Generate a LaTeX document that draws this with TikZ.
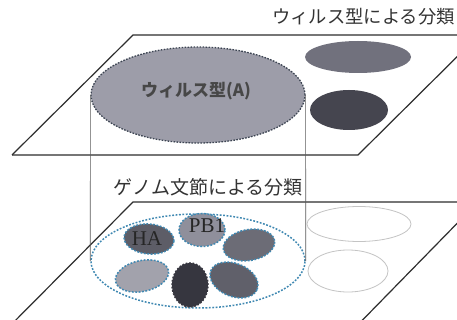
\documentclass[tikz,border=0pt]{standalone}
\usepackage{fontspec}
\setmainfont{Liberation Serif}
\newfontfamily\jp{Noto Sans CJK JP}
\usetikzlibrary{shapes.geometric}
\definecolor{planeline}{HTML}{2E2E2E}
\definecolor{guide}{HTML}{5A5A5A}
\definecolor{dotblue}{HTML}{3F88B2}
\definecolor{dotdark}{HTML}{3C4452}
\definecolor{bigfill}{HTML}{9D9DA9}
\definecolor{cA}{HTML}{71717D}
\definecolor{cB}{HTML}{45454F}
\definecolor{cHA}{HTML}{5D5D67}
\definecolor{cPB}{HTML}{8F8F9B}
\definecolor{cRT}{HTML}{6C6C76}
\definecolor{cBL}{HTML}{A2A2AC}
\definecolor{cBC}{HTML}{36363F}
\definecolor{cBR}{HTML}{60606A}
\definecolor{emptyline}{HTML}{C4C4C4}
\begin{document}
\begin{tikzpicture}[x=1pt,y=-1pt,
  plane/.style={draw=planeline,line width=1.2pt,line join=miter},
  guideline/.style={draw=guide,line width=0.6pt},
  blob/.style={ellipse,inner sep=0pt,draw=dotblue,line width=1.5pt,dash pattern=on 1.8pt off 1.6pt},
  solidblob/.style={ellipse,inner sep=0pt,draw=none},
  emptyblob/.style={ellipse,inner sep=0pt,draw=emptyline,line width=0.8pt},
  jptitle/.style={font=\jp\fontsize{19}{21}\selectfont,text=black!80,inner sep=0pt},
  seglabel/.style={font=\fontsize{21}{23}\selectfont,text=black!85,inner sep=0pt}
]
\useasboundingbox (0,0) rectangle (457,320);
\clip (0,0) rectangle (457,320);
\fill[white] (0,0) rectangle (457,320);

% upper plane
\draw[plane] (12,155) -- (133,35) -- (480,35);
\draw[plane] (12,155) -- (358,155) -- (479,35);
% lower plane
\draw[plane] (-2,338) -- (133,202) -- (480,202);
\draw[plane] (343,340) -- (478,202);

% titles
\node[jptitle,anchor=east,font=\jp\fontsize{18.3}{20}\selectfont] (t1) at (455,17) {ウィルス型による分類};
\node[jptitle] (t2) at (208,187) {ゲノム文節による分類};

% upper ellipses
\node[ellipse,inner sep=0pt,minimum width=214pt,minimum height=96pt,fill=bigfill,draw=dotdark,line width=1.3pt,dash pattern=on 1.6pt off 1.4pt] (bigA) at (198,95) {};
\node[font=\jp\bfseries\fontsize{17}{19}\selectfont,text=black!72,inner sep=0pt] (labA) at (196,91) {ウィルス型(A)};
\node[solidblob,fill=cA,minimum width=106pt,minimum height=32pt] (upA) at (358,57) {};
\node[solidblob,fill=cB,minimum width=78pt,minimum height=40pt] (upB) at (349,110) {};

% lower ellipses
\node[blob,minimum width=214pt,minimum height=94pt] (lowA) at (198,261) {};
\node[blob,fill=cHA,minimum width=50pt,minimum height=30pt,rotate=-5] (sHA) at (149,239) {};
\node[seglabel] (lHA) at (147,239) {HA};
\node[blob,fill=cPB,minimum width=46pt,minimum height=33pt] (sPB) at (202,230) {};
\node[seglabel] (lPB) at (207,226) {PB1};
\node[blob,fill=cRT,minimum width=52pt,minimum height=31pt,rotate=10] (sRT) at (249,245) {};
\node[blob,fill=cBL,minimum width=54pt,minimum height=31pt,rotate=12] (sBL) at (142,276) {};
\node[blob,fill=cBC,draw=cBC,minimum width=36pt,minimum height=44pt] (sBC) at (190,285) {};
\node[blob,fill=cBR,minimum width=50pt,minimum height=33pt,rotate=-22] (sBR) at (234,280) {};
\node[emptyblob,minimum width=104pt,minimum height=35pt] (eA) at (359,224) {};
\node[emptyblob,minimum width=80pt,minimum height=42pt] (eB) at (348,271) {};

% guide lines
\draw[guideline] (bigA.west) -- (lowA.west);
\draw[guideline] (bigA.east) -- (lowA.east);
\end{tikzpicture}
\end{document}
